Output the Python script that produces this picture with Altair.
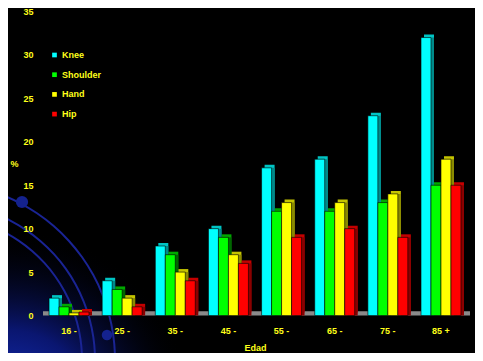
import altair as alt
import pandas as pd

categories = ["16 -", "25 -", "35 -", "45 -", "55 -", "65 -", "75 -", "85 +"]
series = ["Knee", "Shoulder", "Hand", "Hip"]
knee = [2, 4, 8, 10, 17, 18, 23, 32]
shoulder = [1, 3, 7, 9, 12, 12, 13, 15]
hand = [0.3, 2, 5, 7, 13, 13, 14, 18]
hip = [0.4, 1, 4, 6, 9, 10, 9, 15]
y_ticks = [0, 5, 10, 15, 20, 25, 30, 35]

front_colors = ["#00ffff", "#00ff00", "#ffff00", "#ff0000"]
top_colors = ["#00c4c4", "#00a800", "#c4c400", "#c40000"]
side_colors = ["#008a8a", "#006600", "#8a8a00", "#8a0000"]

rows = []
for s, vals in zip(series, [knee, shoulder, hand, hip]):
    for c, v in zip(categories, vals):
        rows.append({"Edad": c, "Serie": s, "Valor": v})
df = pd.DataFrame(rows)
dummy = pd.DataFrame({"d": [0]})

W, H = 430, 304
PL, PT, PR, PB = 32, 3.5, 5, 37.5
PI, PO = 0.248, 0.17
BW = W / (len(categories) - PI + 2 * PO) * (1 - PI)  # band width in px
DEPTH = 3
TXT = "#ffff1a"
FONT = "Liberation Sans"

x_enc = alt.X(
    "Edad:N",
    sort=categories,
    scale=alt.Scale(paddingInner=PI, paddingOuter=PO),
    axis=alt.Axis(title="Edad", labelAngle=0, domain=False, ticks=False,
                  labelPadding=11, titleY=32, titleBaseline="middle", zindex=2),
)
y_enc = alt.Y(
    "Valor:Q",
    scale=alt.Scale(domain=[0, 35], nice=False),
    axis=alt.Axis(values=y_ticks, title="%", titleAngle=0, titleX=-26, titleY=152,
                  titleAlign="center", titleBaseline="middle",
                  grid=False, domain=False, ticks=False, labelPadding=7, zindex=2),
)

# background glow
glow = alt.Chart(dummy).mark_rect(
    color=alt.RadialGradient(
        gradient="radial",
        x1=0, y1=1, r1=0, x2=0, y2=1, r2=0.4,
        stops=[alt.GradientStop(offset=0, color="#1733c8"),
               alt.GradientStop(offset=0.45, color="#0a1670"),
               alt.GradientStop(offset=1, color="rgba(0,0,0,0)")],
    )
).encode(x=alt.value(-PL), x2=alt.value(W + PR), y=alt.value(-PT), y2=alt.value(H + PB))

cx, cy = -102, 348.5
decor = [glow]
for R in [178, 158, 145]:
    decor.append(
        alt.Chart(dummy).mark_arc(color="#1a2494", theta=0.0, theta2=1.9,
                                  radius=R, radius2=R - 2)
        .encode(x=alt.value(cx), y=alt.value(cy))
    )
for (px, py, sz) in [(-18, 190.5, 150), (67, 323.5, 110)]:
    decor.append(
        alt.Chart(dummy).mark_circle(color="#14228e", opacity=1)
        .encode(x=alt.value(px), y=alt.value(py), size=alt.value(sz))
    )

floor = alt.Chart(dummy).mark_rect(color="#8a8a8a").encode(
    x=alt.value(3), x2=alt.value(W), y=alt.datum(0), y2=alt.datum(0.5)
)

# 3-D top face (shifted right and up)
top = alt.Chart(df).transform_calculate(Tapa="datum.Serie + ' t'").mark_bar(
    yOffset=-DEPTH
).encode(
    x=x_enc,
    xOffset=alt.XOffset("Serie:N", sort=series,
                        scale=alt.Scale(domain=series, range=[DEPTH, BW + DEPTH])),
    y=y_enc,
    color=alt.Color("Tapa:N", scale=alt.Scale(domain=[s + " t" for s in series],
                                              range=top_colors), legend=None),
)

# 3-D side face (shifted right only)
side = alt.Chart(df).transform_calculate(Lado="datum.Serie + ' s'").mark_bar().encode(
    x=x_enc,
    xOffset=alt.XOffset("Serie:N", sort=series,
                        scale=alt.Scale(domain=series, range=[DEPTH, BW + DEPTH])),
    y=y_enc,
    color=alt.Color("Lado:N", scale=alt.Scale(domain=[s + " s" for s in series],
                                              range=side_colors), legend=None),
)

front = alt.Chart(df).mark_bar(stroke="#000000", strokeWidth=0.6).encode(
    x=x_enc,
    xOffset=alt.XOffset("Serie:N", sort=series,
                        scale=alt.Scale(domain=series, range=[0, BW])),
    y=y_enc,
    color=alt.Color(
        "Serie:N",
        scale=alt.Scale(domain=series, range=front_colors),
        legend=alt.Legend(title=None, orient="none", legendX=10, legendY=39,
                          symbolType="square", symbolSize=22, symbolStrokeWidth=0,
                          labelColor=TXT, labelFont=FONT, labelFontSize=9,
                          labelFontWeight="bold", rowPadding=9.7, labelOffset=3,
                          padding=0),
    ),
)

chart = alt.layer(*decor, floor, top, side, front).resolve_scale(
    xOffset="independent", color="independent"
).properties(
    width=W, height=H,
    padding={"left": PL, "top": PT, "right": PR, "bottom": PB},
    autosize=alt.AutoSizeParams(type="none"),
    background="#000000",
).configure_view(stroke=None).configure_axis(
    labelColor=TXT, titleColor=TXT, labelFont=FONT, titleFont=FONT,
    labelFontSize=9, titleFontSize=9, labelFontWeight="bold", titleFontWeight="bold",
)

chart.save("out.html", embed_options={"renderer": "svg", "actions": False})
